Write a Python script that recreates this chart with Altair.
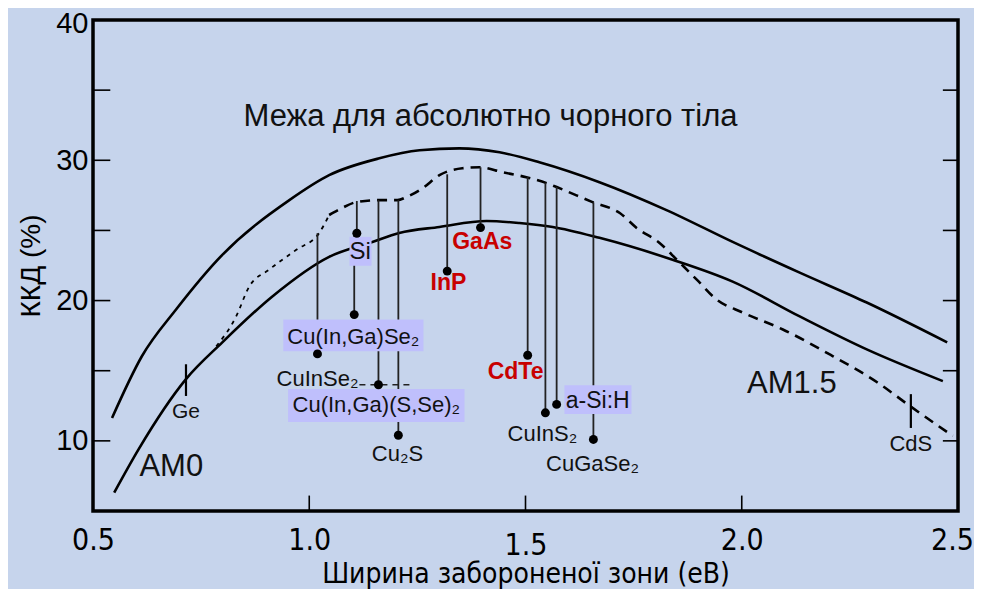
import altair as alt
import pandas as pd

# ---- data ----
# Black-body limit curve (upper solid)
bb_gap = [0.544, 0.613, 0.692, 0.799, 0.954, 1.046, 1.162, 1.255, 1.347, 1.440, 1.532, 1.671, 1.826, 1.979, 2.134, 2.289, 2.475]
bb_eff = [11.63, 16.03, 19.36, 23.26, 27.16, 28.94, 30.14, 30.71, 30.85, 30.57, 29.86, 28.44, 26.45, 24.18, 21.99, 19.86, 17.02]

# AM0 / AM1.5 limit curve (lower solid)
am_gap = [0.549, 0.606, 0.715, 0.799, 0.914, 1.046, 1.146, 1.208, 1.301, 1.410, 1.486, 1.563, 1.671, 1.840, 1.979, 2.134, 2.289, 2.465]
am_eff = [6.31, 9.43, 14.40, 17.02, 20.28, 23.12, 24.18, 24.82, 25.25, 25.67, 25.53, 25.25, 24.47, 22.91, 21.35, 18.87, 16.52, 14.26]

# Dashed curve, thin early part
dthin_gap = [0.785, 0.831, 0.861, 0.907, 0.970, 1.023, 1.046]
dthin_eff = [16.74, 18.87, 20.99, 22.20, 23.62, 24.82, 26.10]
# Dashed curve, main part
dash_gap = [1.046, 1.076, 1.109, 1.162, 1.204, 1.225, 1.262, 1.301, 1.354, 1.394, 1.447, 1.502, 1.549, 1.572, 1.655,
            1.718, 1.757, 1.810, 1.850, 1.896, 1.942, 2.002, 2.095, 2.211, 2.313, 2.389, 2.488]
dash_eff = [26.10, 26.60, 27.02, 27.16, 27.16, 27.38, 28.01, 28.94, 29.43, 29.50, 29.15, 28.79, 28.37, 28.09, 27.02,
            26.24, 25.18, 24.11, 22.91, 21.49, 20.07, 19.15, 17.94, 16.03, 14.18, 12.48, 10.35]

# Materials: band gap, cell efficiency (dot), top of drop line
mat_names = ["Si", "Cu(In,Ga)Se₂", "CuInSe₂", "Cu(In,Ga)(S,Se)₂", "Cu₂S", "InP", "GaAs", "CdTe", "CuInS₂", "a-Si:H", "CuGaSe₂"]
mat_gap = [1.110, 1.104, 1.019, 1.160, 1.206, 1.319, 1.396, 1.505, 1.546, 1.572, 1.657]
mat_eff = [24.8, 19.0, 16.2, 14.0, 10.4, 22.1, 25.2, 16.1, 12.0, 12.6, 10.1]
mat_top = [27.1, 24.8, 24.8, 27.16, 27.16, 29.0, 29.5, 28.8, 28.4, 28.1, 27.0]

# Single-gap markers (Ge, CdS)
mark_names = ["Ge", "CdS"]
mark_gap = [0.715, 2.391]
mark_lo = [13.2, 10.92]
mark_hi = [15.46, 13.33]

# Labels
lab_text = ["Si", "Cu(In,Ga)Se₂", "CuInSe₂", "Cu(In,Ga)(S,Se)₂", "Cu₂S", "CuInS₂", "a-Si:H", "CuGaSe₂", "Ge", "CdS"]
lab_gap = [1.118, 1.102, 1.019, 1.155, 1.204, 1.539, 1.667, 1.655, 0.715, 2.391]
lab_eff = [23.48, 17.38, 14.40, 12.55, 9.08, 10.50, 12.84, 8.37, 12.06, 9.79]
lab_size = [24, 22, 22, 22, 22, 22, 23, 22, 21, 22]

red_text = ["InP", "GaAs", "CdTe"]
red_gap = [1.322, 1.400, 1.477]
red_eff = [21.28, 24.18, 14.89]

big_text = ["Межа для абсолютно чорного тіла", "AM0", "AM1.5"]
big_gap = [1.419, 0.681, 2.116]
big_eff = [33.05, 8.16, 14.04]
big_size = [31, 31, 31]

# Highlight boxes
box_x1 = [1.093, 0.940, 0.951, 1.590]
box_x2 = [1.144, 1.264, 1.359, 1.745]
box_y1 = [22.48, 16.38, 11.35, 11.91]
box_y2 = [24.54, 18.65, 13.69, 13.97]

# dashed connector near CIGSS
conn_gap = [1.116, 1.237]
conn_eff = [14.0, 14.0]

x_ticks = [0.5, 1.0, 1.5, 2.0, 2.5]
y_ticks = [10, 20, 30, 40]
y_minor = [10, 15, 20, 25, 30, 35]
x_minor = [1.0, 1.5, 2.0]

# ---- chart ----
XD = [0.5, 2.5]
YD = [5, 40]
xs = alt.Scale(domain=XD, nice=False, zero=False)
ys = alt.Scale(domain=YD, nice=False, zero=False)
FONT = "Liberation Sans"
NARROW = "Liberation Sans Narrow, Arial Narrow, DejaVu Sans Condensed, sans-serif"

X_AXIS = alt.Axis(values=x_ticks, title="Ширина забороненої зони (еВ)", domain=False, ticks=False, grid=False,
                  labelFont=NARROW, labelFontSize=30, labelColor="black",
                  labelPadding={"condition": {"test": "datum.value == 1.5", "value": 19}, "value": 14},
                  labelOffset={"condition": {"test": "datum.value == 2.5", "value": -6}, "value": 0},
                  labelExpr="format(datum.value, '.1f')", labelFlush=False,
                  titleFont=NARROW, titleFontSize=28, titleFontWeight="normal", titleColor="black",
                  titleBaseline="alphabetic", titleY=71)
Y_AXIS = alt.Axis(values=y_ticks, title="ККД (%)", domain=False, ticks=False, grid=False,
                  labelFont=FONT, labelFontSize=29, labelColor="black", labelPadding=5, labelFlush=False,
                  labelOffset={"condition": {"test": "datum.value == 40", "value": 3}, "value": 0},
                  titleFont=FONT, titleFontSize=28, titleFontWeight="normal", titleColor="black", titlePadding=10)


def X(f="x"):
    return alt.X(f"{f}:Q", scale=xs, axis=X_AXIS)


def Y(f="y"):
    return alt.Y(f"{f}:Q", scale=ys, axis=Y_AXIS)


bb = alt.Chart(pd.DataFrame({"x": bb_gap, "y": bb_eff})).mark_line(
    color="black", strokeWidth=2.6, interpolate="monotone").encode(x=X(), y=Y())
am = alt.Chart(pd.DataFrame({"x": am_gap, "y": am_eff})).mark_line(
    color="black", strokeWidth=2.6, interpolate="monotone").encode(x=X(), y=Y())
dthin = alt.Chart(pd.DataFrame({"x": dthin_gap, "y": dthin_eff})).mark_line(
    color="black", strokeWidth=1.8, strokeDash=[4, 5], interpolate="monotone").encode(x=X(), y=Y())
dash = alt.Chart(pd.DataFrame({"x": dash_gap, "y": dash_eff})).mark_line(
    color="black", strokeWidth=2.6, strokeDash=[10, 7], interpolate="monotone").encode(x=X(), y=Y())

mat_df = pd.DataFrame({"name": mat_names, "x": mat_gap, "y": mat_eff, "top": mat_top})
drops = alt.Chart(mat_df).mark_rule(color="#222", strokeWidth=1.8).encode(x=X(), y=Y(), y2="top:Q")
dots = alt.Chart(mat_df).mark_circle(color="black", opacity=1, size=80).encode(x=X(), y=Y())

mk_df = pd.DataFrame({"x": mark_gap, "lo": mark_lo, "hi": mark_hi})
marks = alt.Chart(mk_df).mark_rule(color="black", strokeWidth=2.2).encode(x=X(), y=Y("lo"), y2="hi:Q")

conn = alt.Chart(pd.DataFrame({"x": conn_gap, "y": conn_eff})).mark_line(
    color="#222", strokeWidth=1.4, strokeDash=[6, 5]).encode(x=X(), y=Y())

box_df = pd.DataFrame({"x1": box_x1, "x2": box_x2, "y1": box_y1, "y2": box_y2})
boxes = alt.Chart(box_df).mark_rect(color="#bfbffc").encode(x=X("x1"), x2="x2:Q", y=Y("y1"), y2="y2:Q")

lab_df = pd.DataFrame({"t": lab_text, "x": lab_gap, "y": lab_eff, "s": lab_size})
labels = alt.Chart(lab_df).mark_text(font=FONT, color="#111", baseline="middle", align="center").encode(
    x=X(), y=Y(), text="t:N", size=alt.Size("s:Q", scale=None, legend=None))

red_df = pd.DataFrame({"t": red_text, "x": red_gap, "y": red_eff})
reds = alt.Chart(red_df).mark_text(font=FONT, color="#c80000", fontWeight="bold", fontSize=23,
                                   baseline="middle", align="center").encode(x=X(), y=Y(), text="t:N")

big_df = pd.DataFrame({"t": big_text, "x": big_gap, "y": big_eff, "s": big_size})
bigs = alt.Chart(big_df).mark_text(font=FONT, color="#111", baseline="middle", align="center").encode(
    x=X(), y=Y(), text="t:N", size=alt.Size("s:Q", scale=None, legend=None))

# inward ticks
yl = alt.Chart(pd.DataFrame({"y": y_minor, "x": [0.5] * len(y_minor), "x2": [0.54] * len(y_minor)})).mark_rule(
    color="black", strokeWidth=1.6).encode(x=X(), x2="x2:Q", y=Y())
yr = alt.Chart(pd.DataFrame({"y": y_minor, "x": [2.465] * len(y_minor), "x2": [2.5] * len(y_minor)})).mark_rule(
    color="black", strokeWidth=1.6).encode(x=X(), x2="x2:Q", y=Y())
xt = alt.Chart(pd.DataFrame({"x": x_minor, "y": [5] * len(x_minor), "y2": [6.1] * len(x_minor)})).mark_rule(
    color="black", strokeWidth=1.6).encode(x=X(), y=Y(), y2="y2:Q")

chart = alt.layer(bb, am, dthin, dash, drops, marks, conn, boxes, labels, reds, bigs, dots, yl, yr, xt).properties(
    width=865, height=491,
    autosize=alt.AutoSizeParams(type="none"),
    padding={"left": 85, "top": 12, "right": 16, "bottom": 78},
    background="#c6d4ec",
).configure_view(stroke="black", strokeWidth=3.5)

chart.save("out.html", embed_options={"renderer": "svg", "actions": False})
